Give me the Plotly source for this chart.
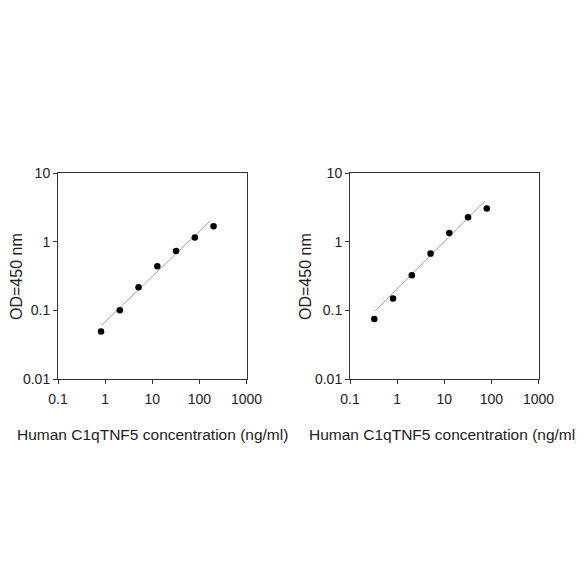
import plotly.graph_objects as go

# -----------------------------
# DATA
# -----------------------------
conc_left = [0.8192, 2.048, 5.12, 12.8, 32, 80, 200]
od_left = [0.049, 0.100, 0.217, 0.44, 0.73, 1.15, 1.68]
fit_x_left = [0.85, 171]
fit_y_left = [0.061, 2.02]

conc_right = [0.328, 0.8192, 2.048, 5.12, 12.8, 32, 80]
od_right = [0.075, 0.149, 0.325, 0.67, 1.34, 2.27, 3.03]
fit_x_right = [0.34, 72]
fit_y_right = [0.098, 3.9]

x_ticks = [0.1, 1, 10, 100, 1000]
x_tick_labels = ["0.1", "1", "10", "100", "1000"]
y_ticks = [0.01, 0.1, 1, 10]
y_tick_labels = ["0.01", "0.1", "1", "10"]

x_title = "Human C1qTNF5 concentration (ng/ml)"
y_title = "OD=450 nm"

FONT = "Liberation Sans, Arial, sans-serif"
AXIS_COLOR = "#333333"
TEXT_COLOR = "#222222"

# the page body has an 8px margin, so the figure is drawn 8px smaller
OFFSET = 8
W = 584 - OFFSET


def px_x(p):
    return (p - OFFSET) / W


def px_y(p):
    return 1 - (p - OFFSET) / W


fig = go.Figure()

panels = [
    ("x", "y", conc_left, od_left, fit_x_left, fit_y_left),
    ("x2", "y2", conc_right, od_right, fit_x_right, fit_y_right),
]

for xa, ya, cx, cy, fx, fy in panels:
    # fitted line
    fig.add_trace(go.Scatter(
        x=fx, y=fy, mode="lines", xaxis=xa, yaxis=ya,
        line=dict(color="#a0a0a0", width=1),
        showlegend=False, hoverinfo="skip"
    ))
    # standard points
    fig.add_trace(go.Scatter(
        x=cx, y=cy, mode="markers", xaxis=xa, yaxis=ya,
        marker=dict(color="black", size=6.5),
        showlegend=False
    ))

axis_common = dict(
    type="log",
    automargin=False,
    showgrid=False,
    zeroline=False,
    showline=True,
    linecolor=AXIS_COLOR,
    linewidth=1,
    mirror=True,
    ticks="outside",
    ticklen=4,
    tickcolor=AXIS_COLOR,
    tickfont=dict(family=FONT, size=14, color=TEXT_COLOR),
)

x_common = dict(axis_common, range=[-1, 3], tickvals=x_ticks,
                ticktext=x_tick_labels, ticklabelstandoff=3)
y_common = dict(axis_common, range=[-2, 1], tickvals=y_ticks,
                ticktext=y_tick_labels, ticklabelstandoff=0)

left_dom = [px_x(58), px_x(246.5)]
right_dom = [px_x(350), px_x(538.5)]
y_dom = [px_y(379), px_y(173)]

fig.update_layout(
    width=W,
    height=W,
    margin=dict(l=0, r=0, t=0, b=0),
    paper_bgcolor="white",
    plot_bgcolor="white",
    xaxis=dict(x_common, domain=left_dom, anchor="y"),
    yaxis=dict(y_common, domain=y_dom, anchor="x"),
    xaxis2=dict(x_common, domain=right_dom, anchor="y2"),
    yaxis2=dict(y_common, domain=y_dom, anchor="x2"),
)

# axis titles as annotations so they sit where the reference has them
for y_title_px, x_center in [(16, 152), (305, 444)]:
    fig.add_annotation(
        text=x_title, xref="paper", yref="paper",
        x=px_x(x_center), y=px_y(434),
        xanchor="center", yanchor="middle", showarrow=False,
        font=dict(family=FONT, size=15.5, color=TEXT_COLOR)
    )
    fig.add_annotation(
        text=y_title, xref="paper", yref="paper",
        x=px_x(y_title_px), y=px_y(277),
        xanchor="center", yanchor="middle", showarrow=False, textangle=-90,
        font=dict(family=FONT, size=16, color=TEXT_COLOR)
    )

fig.write_html("out.html")
